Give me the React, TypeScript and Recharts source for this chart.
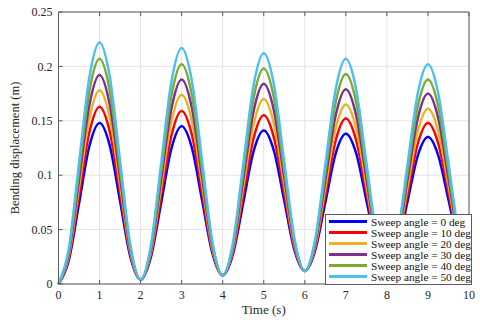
import { LineChart, Line, XAxis, YAxis, CartesianGrid } from 'recharts';

const times = [
    0, 0.25, 0.5, 0.75, 1, 1.25, 1.5, 1.75, 2, 2.25, 2.5, 2.75, 3, 3.25, 3.5, 3.75, 4, 4.25, 4.5, 4.75, 5,
    5.25, 5.5, 5.75, 6, 6.25, 6.5, 6.75, 7, 7.25, 7.5, 7.75, 8, 8.25, 8.5, 8.75, 9, 9.25, 9.5, 9.75, 10,
];

const sweep0 = [
    0, 0.0216, 0.074, 0.1264, 0.148, 0.127, 0.076, 0.025, 0.004, 0.0246, 0.0745, 0.1244, 0.145, 0.125, 0.0765,
    0.028, 0.008, 0.0274, 0.0745, 0.1216, 0.141, 0.122, 0.0765, 0.0308, 0.012, 0.0304, 0.075, 0.1196, 0.138,
    0.1202, 0.077, 0.0338, 0.016, 0.0334, 0.0755, 0.1176, 0.135, 0.1182, 0.0775, 0.0368, 0.02,
];
const sweep10 = [
    0, 0.0238, 0.0815, 0.1392, 0.163, 0.1398, 0.0835, 0.0272, 0.004, 0.0266, 0.0815, 0.1364, 0.159, 0.137,
    0.0835, 0.03, 0.008, 0.0295, 0.0815, 0.1335, 0.155, 0.1341, 0.0835, 0.0329, 0.012, 0.0324, 0.082, 0.1316,
    0.152, 0.1321, 0.084, 0.0359, 0.016, 0.0353, 0.082, 0.1287, 0.148, 0.1293, 0.084, 0.0387, 0.02,
];
const sweep20 = [
    0, 0.026, 0.089, 0.152, 0.178, 0.1526, 0.091, 0.0294, 0.004, 0.0288, 0.089, 0.1492, 0.174, 0.1498, 0.091,
    0.0322, 0.008, 0.0317, 0.089, 0.1463, 0.17, 0.1469, 0.091, 0.0351, 0.012, 0.0343, 0.0885, 0.1427, 0.165,
    0.1432, 0.0905, 0.0378, 0.016, 0.0372, 0.0885, 0.1398, 0.161, 0.1404, 0.0905, 0.0406, 0.02,
];
const sweep30 = [
    0, 0.028, 0.096, 0.164, 0.192, 0.1646, 0.098, 0.0314, 0.004, 0.0309, 0.096, 0.1611, 0.188, 0.1617, 0.098,
    0.0343, 0.008, 0.0337, 0.096, 0.1583, 0.184, 0.1589, 0.098, 0.0371, 0.012, 0.0364, 0.0955, 0.1546, 0.179,
    0.1552, 0.0975, 0.0398, 0.016, 0.0392, 0.0955, 0.1518, 0.175, 0.1524, 0.0975, 0.0426, 0.02,
];
const sweep40 = [
    0, 0.0302, 0.1035, 0.1768, 0.207, 0.1774, 0.1055, 0.0336, 0.004, 0.0329, 0.103, 0.1731, 0.202, 0.1737,
    0.105, 0.0363, 0.008, 0.0357, 0.103, 0.1703, 0.198, 0.1708, 0.105, 0.0392, 0.012, 0.0384, 0.1025, 0.1666,
    0.193, 0.1672, 0.1045, 0.0418, 0.016, 0.0411, 0.102, 0.1629, 0.188, 0.1635, 0.104, 0.0445, 0.02,
];
const sweep50 = [
    0, 0.0324, 0.111, 0.1896, 0.222, 0.1902, 0.113, 0.0358, 0.004, 0.0351, 0.1105, 0.1859, 0.217, 0.1865,
    0.1125, 0.0385, 0.008, 0.0378, 0.11, 0.1822, 0.212, 0.1828, 0.112, 0.0412, 0.012, 0.0405, 0.1095, 0.1785,
    0.207, 0.1791, 0.1115, 0.0439, 0.016, 0.0432, 0.109, 0.1748, 0.202, 0.1754, 0.111, 0.0466, 0.02,
];

const seriesNames = [
    'Sweep angle = 0 deg',
    'Sweep angle = 10 deg',
    'Sweep angle = 20 deg',
    'Sweep angle = 30 deg',
    'Sweep angle = 40 deg',
    'Sweep angle = 50 deg',
];
const seriesValues = [sweep0, sweep10, sweep20, sweep30, sweep40, sweep50];
const seriesColors = ['#0000ff', '#ff0000', '#edb120', '#7e2f8e', '#77ac30', '#4dbeee'];

const xTicks = [0, 1, 2, 3, 4, 5, 6, 7, 8, 9, 10];
const yTicks = [0, 0.05, 0.1, 0.15, 0.2, 0.25];

const data = times.map((t, i) => {
    const row: Record<string, number> = { t };
    seriesValues.forEach((vals, k) => {
        row[`s${k}`] = vals[i];
    });
    return row;
});

const FONT = 'Liberation Serif, DejaVu Serif, Times New Roman, serif';
const AXIS = '#5a5a5a';
const TEXT = '#262626';
const MARGIN = 6;
const TICK_LEN = 4;

const BottomTick = ({ x, y, payload }: any) => (
    <g>
        <line x1={x} x2={x} y1={y - MARGIN} y2={y - MARGIN - TICK_LEN} stroke={AXIS} />
        <text x={x} y={y} dy="0.75em" textAnchor="middle" style={{ fontFamily: FONT }} fontSize={12} fill={TEXT}>
            {payload.value}
        </text>
    </g>
);

const LeftTick = ({ x, y, payload }: any) => (
    <g>
        <line x1={x + MARGIN} x2={x + MARGIN + TICK_LEN} y1={y} y2={y} stroke={AXIS} />
        <text x={x} y={y} dy="0.35em" textAnchor="end" style={{ fontFamily: FONT }} fontSize={12} fill={TEXT}>
            {payload.value}
        </text>
    </g>
);

const TopTick = ({ x, y }: any) => (
    <line x1={x} x2={x} y1={y + MARGIN} y2={y + MARGIN + TICK_LEN} stroke={AXIS} />
);

const RightTick = ({ x, y }: any) => (
    <line x1={x - MARGIN} x2={x - MARGIN - TICK_LEN} y1={y} y2={y} stroke={AXIS} />
);

export default function App() {
    return (
        <div
            style={{
                position: 'absolute',
                left: 0,
                top: 0,
                width: 480,
                height: 322,
                background: '#fff',
                fontFamily: FONT,
            }}
        >
            <LineChart
                width={480}
                height={322}
                data={data}
                margin={{ top: 0, right: 0, bottom: 0, left: 0 }}
                style={{ fontFamily: FONT }}
            >
                <CartesianGrid stroke="#e3e3e3" horizontal vertical />
                <XAxis
                    dataKey="t"
                    type="number"
                    domain={[0, 10]}
                    ticks={xTicks}
                    height={38}
                    tickSize={0}
                    tickMargin={MARGIN}
                    tick={<BottomTick />}
                    axisLine={{ stroke: AXIS }}
                    label={{ value: 'Time (s)', position: 'center', dy: 6, fontSize: 13, fill: TEXT }}
                />
                <XAxis
                    xAxisId="top"
                    orientation="top"
                    dataKey="t"
                    type="number"
                    domain={[0, 10]}
                    ticks={xTicks}
                    height={12}
                    tickSize={0}
                    tickMargin={MARGIN}
                    tick={<TopTick />}
                    axisLine={{ stroke: AXIS }}
                />
                <YAxis
                    type="number"
                    domain={[0, 0.25]}
                    ticks={yTicks}
                    width={58.5}
                    tickSize={0}
                    tickMargin={MARGIN}
                    tick={<LeftTick />}
                    axisLine={{ stroke: AXIS }}
                    label={{
                        value: 'Bending displacement (m)',
                        angle: -90,
                        position: 'center',
                        dx: -15,
                        fontSize: 12.5,
                        fill: TEXT,
                    }}
                />
                <YAxis
                    yAxisId="right"
                    orientation="right"
                    type="number"
                    domain={[0, 0.25]}
                    ticks={yTicks}
                    width={11}
                    tickSize={0}
                    tickMargin={MARGIN}
                    tick={<RightTick />}
                    axisLine={{ stroke: AXIS }}
                />
                {seriesNames.map((name, k) => (
                    <Line
                        key={name}
                        name={name}
                        dataKey={`s${k}`}
                        type="monotone"
                        stroke={seriesColors[k]}
                        strokeWidth={2.5}
                        dot={false}
                        isAnimationActive={false}
                    />
                ))}
            </LineChart>
            <div
                style={{
                    position: 'absolute',
                    left: 325,
                    top: 214,
                    width: 145,
                    height: 68,
                    background: '#fff',
                    border: `1px solid ${AXIS}`,
                    padding: '1px 0 0 0',
                    fontSize: 11.3,
                    color: '#111',
                }}
            >
                {seriesNames.map((name, k) => (
                    <div key={name} style={{ display: 'flex', alignItems: 'center', height: 11 }}>
                        <div style={{ width: 38, height: 2.5, background: seriesColors[k], marginLeft: 3, marginRight: 4 }} />
                        <span style={{ whiteSpace: 'nowrap', lineHeight: '10px' }}>{name}</span>
                    </div>
                ))}
            </div>
        </div>
    );
}
